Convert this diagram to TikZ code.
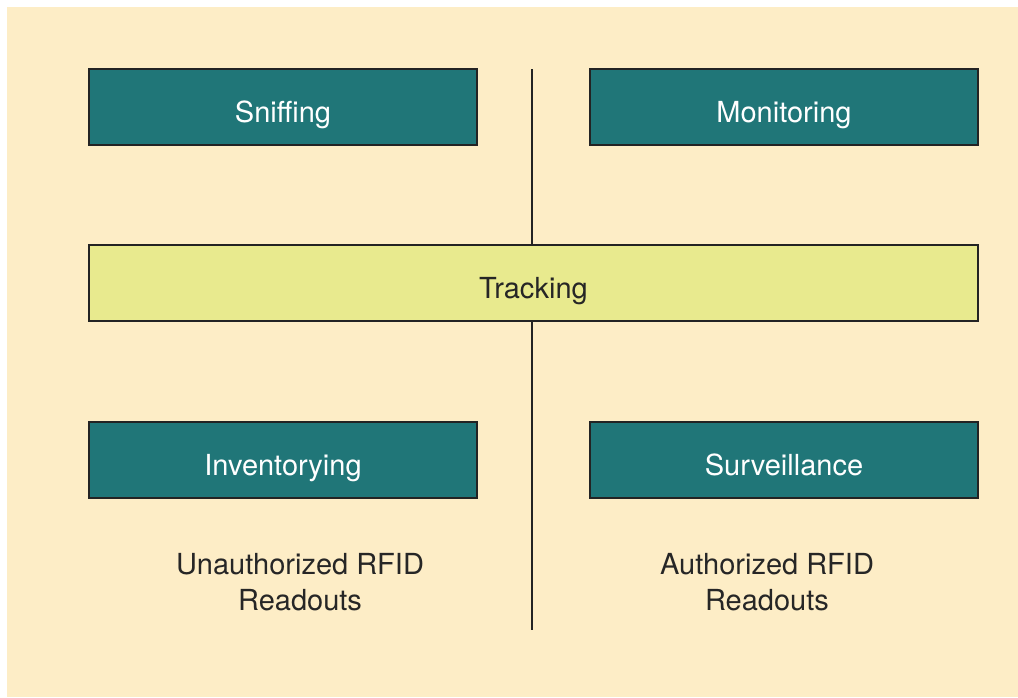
\documentclass[tikz,border=0pt]{standalone}
\usepackage{fontspec}
\setmainfont{TeX Gyre Heros}
\definecolor{bg}{RGB}{253,237,198}
\definecolor{teal}{RGB}{32,118,120}
\definecolor{lime}{RGB}{232,234,142}
\definecolor{edge}{RGB}{35,35,35}
\tikzset{
  boxtext/.style={inner sep=0pt, text height=31pt, text depth=0pt, font=\fontsize{29}{34}\selectfont},
  darkbox/.style={boxtext, draw=edge, line width=2pt, fill=teal, text=white, minimum width=388pt, minimum height=76pt},
  litebox/.style={boxtext, draw=edge, line width=2pt, fill=lime, text=black!85, minimum width=889pt, minimum height=76pt},
  caption/.style={align=center, text=black!85, font=\fontsize{29}{36}\selectfont},
  divider/.style={draw=edge, line width=2pt}
}
\begin{document}
\begin{tikzpicture}[x=1pt,y=-1pt]
\useasboundingbox (0,0) rectangle (1018,697);
\fill[white] (0,0) rectangle (1018,697);
\fill[bg] (7,7) rectangle (1018,697);
\coordinate (ltop) at (532,69);
\coordinate (lbot) at (532,630);
\draw[divider] (ltop) -- (lbot);
\node[darkbox] (sniff) at (283,107) {Sniffing};
\node[darkbox] (monit) at (784,107) {Monitoring};
\node[litebox] (track) at (533.5,283) {Tracking};
\node[darkbox] (inven) at (283,460) {Inventorying};
\node[darkbox] (surv) at (784,460) {Surveillance};
\node[caption] (unauth) at (300,582) {Unauthorized RFID\\Readouts};
\node[caption] (auth) at (767,582) {Authorized RFID\\Readouts};
\end{tikzpicture}
\end{document}
